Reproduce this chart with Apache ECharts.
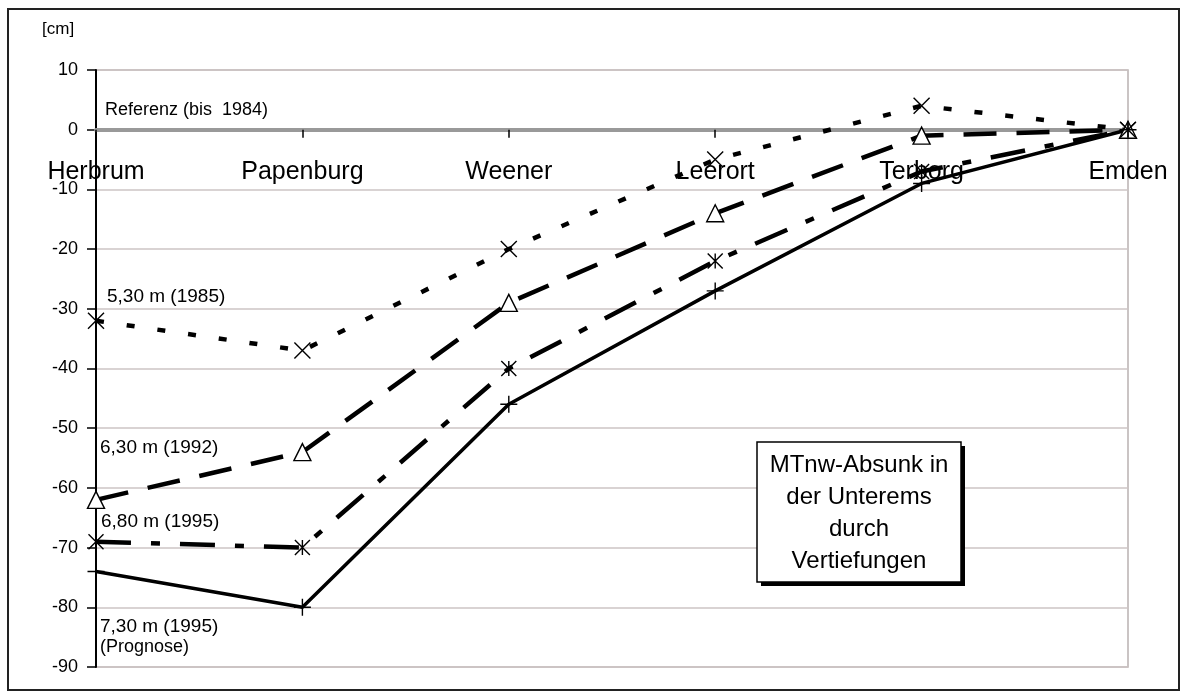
<!DOCTYPE html>
<html>
<head>
<meta charset="utf-8">
<script src="https://cdn.jsdelivr.net/npm/echarts@6/dist/echarts.min.js"></script>
<style>
  html, body { margin: 0; padding: 0; background: #fff; }
  #chart { width: 1186px; height: 696px; }
</style>
</head>
<body>
<div id="chart"></div>
<script>
// Stations along the lower Ems, upstream to downstream
const stations = ['Herbrum', 'Papenburg', 'Weener', 'Leerort', 'Terborg', 'Emden'];

// Change of mean low water (MTnw) in cm, relative to the reference state up to 1984
const depth530_1985 = [-32, -37, -20, -5, 4, 0];
const depth630_1992 = [-62, -54, -29, -14, -1, 0];
const depth680_1995 = [-69, -70, -40, -22, -7, 0];
const depth730_1995 = [-74, -80, -46, -27, -9, 0];

// Value axis ticks
const yMin = -90, yMax = 10, yStep = 10;

const FONT = '"Liberation Sans", Arial, sans-serif';

// Marker shapes drawn as open strokes
const SYM_CROSS = 'path://M0,0L10,10M10,0L0,10';
const SYM_STAR = 'path://M0,0L10,10M10,0L0,10M5,0L5,10';
const SYM_PLUS = 'path://M5,0L5,10M0,5L10,5';

function lineSeries(name, data, symbol, size, dash, width) {
  return {
    name: name,
    type: 'line',
    data: data,
    symbol: symbol,
    symbolSize: size,
    showAllSymbol: true,
    lineStyle: { color: '#000', width: width, type: dash, cap: 'butt' },
    itemStyle: { color: '#fff', borderColor: '#000', borderWidth: 1.4 },
    emphasis: { disabled: true },
    animation: false
  };
}

const chart = echarts.init(document.getElementById('chart'), null, { renderer: 'canvas' });

chart.setOption({
  backgroundColor: '#fff',
  animation: false,
  grid: {
    left: 96, right: 58, top: 70, bottom: 29,
    containLabel: false, outerBoundsMode: 'none',
    show: true, borderColor: '#b9b1b1', borderWidth: 1.5, backgroundColor: 'transparent'
  },
  xAxis: {
    type: 'category',
    data: stations,
    boundaryGap: false,
    position: 'bottom',
    axisLine: { onZero: false, lineStyle: { color: '#999', width: 4 } },
    axisTick: { show: true, length: 8, lineStyle: { color: '#000', width: 1.5 } },
    axisLabel: { interval: 0, margin: 30, color: '#000', fontSize: 25, fontFamily: FONT },
    splitLine: { show: false },
    z: 1
  },
  yAxis: {
    type: 'value',
    min: yMin, max: yMax, interval: yStep,
    axisLine: { show: true, onZero: false, lineStyle: { color: '#000', width: 2 } },
    axisTick: { show: true, length: 9, lineStyle: { color: '#000', width: 1.5 } },
    axisLabel: { margin: 18, color: '#000', fontSize: 18, fontFamily: FONT },
    splitLine: { show: true, lineStyle: { color: '#cdc4c4', width: 1.5 } }
  },
  series: [
    lineSeries('5,30 m (1985)', depth530_1985, SYM_CROSS, 16, [8, 23], 4.5),
    lineSeries('6,30 m (1992)', depth630_1992, 'triangle', 17, [33, 20], 4.5),
    lineSeries('6,80 m (1995)', depth680_1995, SYM_STAR, 15, [35, 20, 9, 20], 4.5),
    lineSeries('7,30 m (1995) (Prognose)', depth730_1995, SYM_PLUS, 17, 'solid', 3.5)
  ],
  graphic: [
    // outer frame
    { type: 'rect', shape: { x: 8, y: 9, width: 1171, height: 681 },
      style: { fill: 'none', stroke: '#222', lineWidth: 2 }, silent: true, z: 100 },
    // unit
    { type: 'text', left: 42, top: 21,
      style: { text: '[cm]', fill: '#000', font: '17px ' + FONT }, silent: true },
    // reference line caption
    { type: 'text', left: 105, top: 101,
      style: { text: 'Referenz (bis  1984)', fill: '#000', font: '18px ' + FONT }, silent: true },
    // series captions
    { type: 'text', left: 107, top: 287,
      style: { text: '5,30 m (1985)', fill: '#000', font: '19px ' + FONT }, silent: true },
    { type: 'text', left: 100, top: 438,
      style: { text: '6,30 m (1992)', fill: '#000', font: '19px ' + FONT }, silent: true },
    { type: 'text', left: 101, top: 512,
      style: { text: '6,80 m (1995)', fill: '#000', font: '19px ' + FONT }, silent: true },
    { type: 'text', left: 100, top: 617,
      style: { text: '7,30 m (1995)', fill: '#000', font: '19px ' + FONT }, silent: true },
    { type: 'text', left: 100, top: 638,
      style: { text: '(Prognose)', fill: '#000', font: '18px ' + FONT }, silent: true },
    // title box with drop shadow
    { type: 'rect', shape: { x: 761, y: 446, width: 204, height: 140 },
      style: { fill: '#000' }, silent: true, z: 50 },
    { type: 'rect', shape: { x: 757, y: 442, width: 204, height: 140 },
      style: { fill: '#fff', stroke: '#000', lineWidth: 1.5 }, silent: true, z: 51 },
    { type: 'text', x: 859, y: 449, z: 52,
      style: { text: 'MTnw-Absunk in\nder Unterems\ndurch\nVertiefungen',
               fill: '#000', font: '24px ' + FONT, align: 'center', verticalAlign: 'top',
               lineHeight: 32 }, silent: true }
  ]
});

// Lift the category axis (line, ticks and labels) up to the zero level
const yZero = chart.convertToPixel({ yAxisIndex: 0 }, 0);
const yBottom = chart.convertToPixel({ yAxisIndex: 0 }, yMin);
chart.setOption({ xAxis: { offset: -(yBottom - yZero) } });
</script>
</body>
</html>
